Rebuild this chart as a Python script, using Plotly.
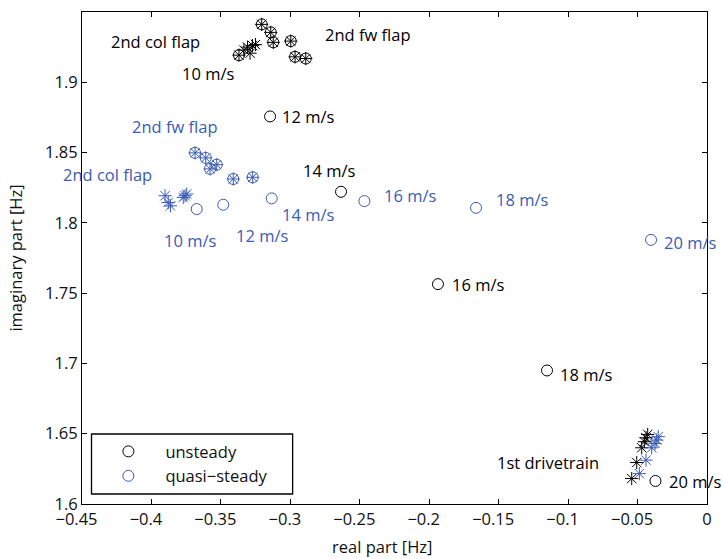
import plotly.graph_objects as go

# ---- eigenvalues: real part [Hz], imaginary part [Hz] ----
wind_speeds = ["10 m/s", "12 m/s", "14 m/s", "16 m/s", "18 m/s", "20 m/s"]

# tracked mode, unsteady aerodynamics
uns_re = [-0.3370, -0.3146, -0.2635, -0.1937, -0.1152, -0.0371]
uns_im = [1.9193, 1.8757, 1.8221, 1.7564, 1.6950, 1.6164]

# tracked mode, quasi-steady aerodynamics
qs_re = [-0.3674, -0.3483, -0.3134, -0.2467, -0.1663, -0.0403]
qs_im = [1.8098, 1.8129, 1.8174, 1.8155, 1.8107, 1.7879]

# 2nd fw flap (unsteady / quasi-steady)
uns_fw_re = [-0.3206, -0.3141, -0.3123, -0.2997, -0.2966, -0.2889]
uns_fw_im = [1.9412, 1.9355, 1.9284, 1.9293, 1.9181, 1.9169]
qs_fw_re = [-0.3686, -0.3609, -0.3578, -0.3530, -0.3411, -0.3271]
qs_fw_im = [1.8498, 1.8462, 1.8384, 1.8414, 1.8312, 1.8324]

# 2nd col flap (unsteady / quasi-steady)
uns_col_re = [-0.3370, -0.3334, -0.3308, -0.3290, -0.3272, -0.3251]
uns_col_im = [1.9193, 1.9229, 1.9250, 1.9207, 1.9261, 1.9268]
qs_col_re = [-0.3902, -0.3879, -0.3863, -0.3771, -0.3758, -0.3746]
qs_col_im = [1.8193, 1.8145, 1.8121, 1.8181, 1.8193, 1.8205]

# 1st drivetrain (unsteady / quasi-steady)
uns_dt_re = [-0.0542, -0.0506, -0.0470, -0.0451, -0.0439, -0.0427]
uns_dt_im = [1.6181, 1.6295, 1.6400, 1.6443, 1.6471, 1.6495]
qs_dt_re = [-0.0487, -0.0439, -0.0398, -0.0374, -0.0362, -0.0351]
qs_dt_im = [1.6216, 1.6312, 1.6400, 1.6431, 1.6455, 1.6479]

x_ticks = [-0.45, -0.4, -0.35, -0.3, -0.25, -0.2, -0.15, -0.1, -0.05, 0]
x_tick_text = ["\u22120.45", "\u22120.4", "\u22120.35", "\u22120.3", "\u22120.25",
               "\u22120.2", "\u22120.15", "\u22120.1", "\u22120.05", "0"]
y_ticks = [1.6, 1.65, 1.7, 1.75, 1.8, 1.85, 1.9, 1.95]
y_tick_text = ["1.6", "1.65", "1.7", "1.75", "1.8", "1.85", "1.9", "1.95"]

BLACK = "#000000"
BLUE = "#3a5cb4"
TEXT = "#111111"
FONT = "Open Sans"
FS = 16.5

# negative tick labels sit slightly left of their ticks (number centred on the tick)
x_tick_text = [t + "\u2002\u2009" if t.startswith("\u2212") else t for t in x_tick_text]

fig = go.Figure()


def circles(xs, ys, color, name=None, legend=False):
    fig.add_trace(go.Scatter(
        x=xs, y=ys, mode="markers", name=name, showlegend=legend,
        marker=dict(symbol="circle-open", size=11, color=color,
                    line=dict(width=1, color=color)),
        cliponaxis=False))


def stars(xs, ys, color):
    fig.add_trace(go.Scatter(
        x=xs, y=ys, mode="markers", showlegend=False,
        marker=dict(symbol="asterisk-open", size=11, color=color,
                    line=dict(width=1, color=color)),
        cliponaxis=False))


circles(uns_re, uns_im, BLACK, "unsteady", True)
circles(qs_re, qs_im, BLUE, "quasi\u2212steady", True)
circles(uns_fw_re, uns_fw_im, BLACK)
circles(qs_fw_re, qs_fw_im, BLUE)
for xs, ys, c in [(uns_fw_re, uns_fw_im, BLACK), (qs_fw_re, qs_fw_im, BLUE),
                  (uns_col_re, uns_col_im, BLACK), (qs_col_re, qs_col_im, BLUE),
                  (uns_dt_re, uns_dt_im, BLACK), (qs_dt_re, qs_dt_im, BLUE)]:
    stars(xs, ys, c)

# labels: (text, x, y, color)
labels = [
    ("2nd col flap", -0.3974, 1.9293, BLACK),
    ("2nd fw flap", -0.2441, 1.9343, BLACK),
    (wind_speeds[0], -0.3593, 1.9064, BLACK),
    (wind_speeds[1], -0.2873, 1.8757, BLACK),
    (wind_speeds[2], -0.2722, 1.8371, BLACK),
    (wind_speeds[3], -0.1649, 1.7564, BLACK),
    (wind_speeds[4], -0.0871, 1.6921, BLACK),
    (wind_speeds[5], -0.0086, 1.6157, BLACK),
    ("1st drivetrain", -0.1145, 1.6293, BLACK),
    ("2nd fw flap", -0.3827, 1.8686, BLUE),
    ("2nd col flap", -0.4320, 1.8343, BLUE),
    (wind_speeds[0], -0.3722, 1.7871, BLUE),
    (wind_speeds[1], -0.3204, 1.7907, BLUE),
    (wind_speeds[2], -0.2873, 1.8057, BLUE),
    (wind_speeds[3], -0.2138, 1.8193, BLUE),
    (wind_speeds[4], -0.1332, 1.8164, BLUE),
    (wind_speeds[5], -0.0122, 1.7857, BLUE),
]
for text, x, y, c in labels:
    fig.add_annotation(x=x, y=y, text=text, showarrow=False,
                       xanchor="center", yanchor="middle",
                       font=dict(family=FONT, size=FS, color=c))

# x-axis title
fig.add_annotation(xref="paper", yref="paper", x=0.481, y=-0.087,
                   text="real part [Hz]", showarrow=False,
                   xanchor="center", yanchor="middle",
                   font=dict(family=FONT, size=FS, color=TEXT))

# legend frame
fig.add_shape(type="rect", xref="paper", yref="paper",
              x0=0.0152, x1=0.337, y0=0.0203, y1=0.1423,
              line=dict(color="black", width=1.3), fillcolor="white", layer="below")

axis_common = dict(showline=True, linecolor="black", linewidth=1, mirror="ticks",
                   ticks="inside", ticklen=5, tickcolor="black", showgrid=False,
                   zeroline=False, tickfont=dict(family=FONT, size=FS, color=TEXT))

fig.update_xaxes(range=[-0.45, 0], tickvals=x_ticks, ticktext=x_tick_text,
                 **axis_common)
fig.update_yaxes(range=[1.6, 1.95], tickvals=y_ticks, ticktext=y_tick_text,
                 title=dict(text="imaginary part [Hz]", standoff=18,
                            font=dict(family=FONT, size=FS, color=TEXT)),
                 **axis_common)

fig.update_layout(
    width=723, height=559,
    margin=dict(l=82, r=16, t=12, b=55),
    plot_bgcolor="white", paper_bgcolor="white",
    font=dict(family=FONT, size=FS, color=TEXT),
    legend=dict(x=0.015, y=0.142, xanchor="left", yanchor="top",
                borderwidth=0, bgcolor="rgba(0,0,0,0)",
                itemwidth=64,
                font=dict(family=FONT, size=FS, color=TEXT)),
)

fig.write_html("out.html")
